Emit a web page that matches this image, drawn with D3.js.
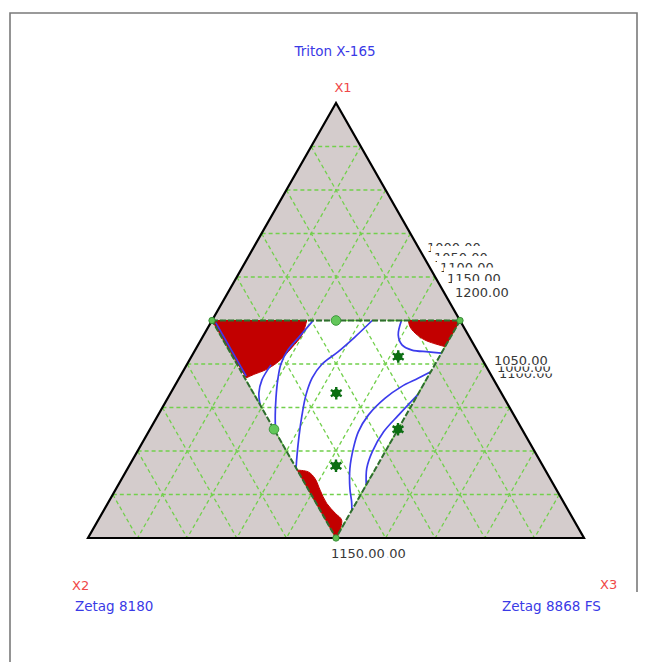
<!DOCTYPE html>
<html>
<head>
<meta charset="utf-8">
<script src="https://cdn.jsdelivr.net/npm/d3@7"></script>
<style>
  html, body { margin: 0; padding: 0; background: #ffffff; }
  svg { display: block; }
</style>
</head>
<body>
<svg id="chart" width="651" height="662"></svg>
<script>
// Mixture components (vertex order: X1 top, X2 bottom-left, X3 bottom-right)
const componentNames = ["Triton X-165", "Zetag 8180", "Zetag 8868 FS"];
const componentCodes = ["X1", "X2", "X3"];

// Grid levels for every component
const gridLevels = [0.1, 0.2, 0.3, 0.4, 0.5, 0.6, 0.7, 0.8, 0.9];

// Constrained design region (each component at most 0.5), compositions [X1, X2, X3]
const regionVertices = [[0.5, 0.5, 0], [0.5, 0, 0.5], [0, 0.5, 0.5]];

// Design runs and their marker kinds
const designPoints = [
  [0.5, 0.5, 0], [0.5, 0, 0.5], [0, 0.5, 0.5],
  [0.5, 0.25, 0.25], [0.25, 0.5, 0.25], [0.25, 0.25, 0.5],
  [0.333, 0.333, 0.334], [0.417, 0.166, 0.417], [0.166, 0.417, 0.417]
];
const designKinds = ["vertex", "vertex", "vertex", "edge", "edge", "star", "star", "star", "star"];

// Zones above the highest contour level: curved boundary, then the corner it encloses
const zoneTopLeftCurve = [
  [0.500, 0.309, 0.191], [0.467, 0.335, 0.198], [0.437, 0.371, 0.192],
  [0.405, 0.414, 0.181], [0.386, 0.450, 0.164], [0.377, 0.475, 0.148],
  [0.368, 0.497, 0.135]
];
const zoneTopLeftCorner = [[0.5, 0.5, 0]];

const zoneBottomCurve = [
  [0.156, 0.500, 0.344], [0.152, 0.480, 0.368], [0.137, 0.474, 0.389],
  [0.110, 0.477, 0.413], [0.080, 0.479, 0.441], [0.057, 0.473, 0.470],
  [0.041, 0.468, 0.491], [0.012, 0.488, 0.500]
];
const zoneBottomCorner = [[0, 0.5, 0.5]];

const zoneTopRightCurve = [
  [0.440, 0.060, 0.500], [0.442, 0.066, 0.492], [0.455, 0.093, 0.452],
  [0.471, 0.105, 0.424], [0.486, 0.108, 0.406], [0.500, 0.104, 0.396]
];
const zoneTopRightCorner = [[0.5, 0, 0.5]];

// Contour lines of the fitted response
const contourEdge = [[0.495, 0.495, 0.010], [0.372, 0.495, 0.133]];
const contourA = [[0.398, 0.432, 0.170], [0.363, 0.468, 0.169], [0.333, 0.489, 0.178], [0.306, 0.500, 0.194]];
const contourB = [
  [0.500, 0.296, 0.204], [0.464, 0.341, 0.195], [0.432, 0.381, 0.187], [0.400, 0.411, 0.189],
  [0.363, 0.436, 0.201], [0.322, 0.460, 0.218], [0.283, 0.481, 0.236], [0.244, 0.500, 0.256]
];
const contourC = [
  [0.500, 0.177, 0.323], [0.462, 0.231, 0.307], [0.428, 0.282, 0.290], [0.400, 0.328, 0.272],
  [0.368, 0.364, 0.268], [0.329, 0.396, 0.275], [0.283, 0.427, 0.290], [0.235, 0.457, 0.308],
  [0.191, 0.483, 0.326], [0.161, 0.500, 0.339]
];
const contourD = [
  [0.500, 0.118, 0.382], [0.467, 0.141, 0.392], [0.444, 0.145, 0.411],
  [0.432, 0.131, 0.437], [0.428, 0.100, 0.472], [0.425, 0.075, 0.500]
];
const contourE = [
  [0.382, 0.118, 0.500], [0.367, 0.151, 0.482], [0.348, 0.194, 0.458], [0.321, 0.241, 0.438],
  [0.283, 0.293, 0.424], [0.244, 0.333, 0.423], [0.206, 0.362, 0.432], [0.160, 0.392, 0.448],
  [0.114, 0.415, 0.471], [0.083, 0.427, 0.490], [0.064, 0.436, 0.500]
];
const contourF = [
  [0.329, 0.171, 0.500], [0.283, 0.232, 0.485], [0.244, 0.282, 0.474],
  [0.198, 0.328, 0.474], [0.160, 0.358, 0.482], [0.122, 0.378, 0.500]
];

// Contour level labels
const labelsUpper = ["1000.00", "1050.00", "1100.00", "1150.00", "1200.00"];
const labelsSide = ["1050.00", "1000.00", "1100.00"];
const labelsBase = ["1150.00", "1100.00"];

// ---------------------------------------------------------------------------
const svg = d3.select("#chart");

// Ternary projection: X1 sets the height, X3 - X2 sets the horizontal position
const yScale = d3.scaleLinear().domain([0, 1]).range([538, 103]);
const xScale = d3.scaleLinear().domain([-1, 1]).range([88, 584]);
const project = p => [xScale(p[2] - p[1]), yScale(p[0])];

const polyLine = d3.line().x(d => project(d)[0]).y(d => project(d)[1]);
const smoothLine = d3.line().x(d => project(d)[0]).y(d => project(d)[1]).curve(d3.curveCatmullRom.alpha(0.5));

const outerVertices = [[1, 0, 0], [0, 1, 0], [0, 0, 1]];

// Window frame
svg.append("path")
  .attr("d", "M10,662 V13 H637 V592")
  .attr("fill", "none")
  .attr("stroke", "#7a7a7a")
  .attr("stroke-width", 1.6);

// Simplex background and design region
svg.append("path")
  .attr("d", polyLine(outerVertices) + "Z")
  .attr("fill", "#d4cccc");
svg.append("path")
  .attr("d", polyLine(regionVertices) + "Z")
  .attr("fill", "#ffffff");

// Dashed grid for all three components
const gridSegments = [];
gridLevels.forEach(k => {
  gridSegments.push([[k, 1 - k, 0], [k, 0, 1 - k]]);
  gridSegments.push([[1 - k, k, 0], [0, k, 1 - k]]);
  gridSegments.push([[1 - k, 0, k], [0, 1 - k, k]]);
});
svg.append("g")
  .selectAll("path")
  .data(gridSegments)
  .join("path")
  .attr("d", d => polyLine(d))
  .attr("fill", "none")
  .attr("stroke", "#72d04c")
  .attr("stroke-width", 1.3)
  .attr("stroke-dasharray", "4,3");

// High-response zones
const zones = [
  [zoneTopLeftCurve, zoneTopLeftCorner],
  [zoneBottomCurve, zoneBottomCorner],
  [zoneTopRightCurve, zoneTopRightCorner]
];
svg.append("g")
  .selectAll("path")
  .data(zones)
  .join("path")
  .attr("d", d => smoothLine(d[0]) + d[1].map(p => "L" + project(p).join(",")).join("") + "Z")
  .attr("fill", "#c20000")
  .attr("stroke", "#c20000")
  .attr("stroke-width", 1);

// Contour lines
const contours = [contourEdge, contourA, contourB, contourC, contourD, contourE, contourF];
svg.append("g")
  .selectAll("path")
  .data(contours)
  .join("path")
  .attr("d", d => smoothLine(d))
  .attr("fill", "none")
  .attr("stroke", "#3c3cec")
  .attr("stroke-width", 1.7);

// Simplex outline
svg.append("path")
  .attr("d", polyLine(outerVertices) + "Z")
  .attr("fill", "none")
  .attr("stroke", "#000000")
  .attr("stroke-width", 2.2)
  .attr("stroke-linejoin", "miter");

// Design region outline
svg.append("path")
  .attr("d", polyLine(regionVertices) + "Z")
  .attr("fill", "none")
  .attr("stroke", "#2f6e2f")
  .attr("stroke-width", 2)
  .attr("stroke-dasharray", "6,2");

// Design points
const marks = svg.append("g");
designPoints.forEach((p, i) => {
  const [cx, cy] = project(p);
  const kind = designKinds[i];
  if (kind === "star") {
    marks.append("circle").attr("cx", cx).attr("cy", cy).attr("r", 4.2).attr("fill", "#0b6e12");
    marks.append("path")
      .attr("transform", `translate(${cx},${cy})`)
      .attr("d", d3.symbol(d3.symbolAsterisk, 110)())
      .attr("fill", "none")
      .attr("stroke", "#0b6e12")
      .attr("stroke-width", 2.4);
  } else if (kind === "edge") {
    marks.append("circle").attr("cx", cx).attr("cy", cy).attr("r", 4.8)
      .attr("fill", "#63c75a").attr("stroke", "#3d9a3d").attr("stroke-width", 1);
  } else {
    marks.append("circle").attr("cx", cx).attr("cy", cy).attr("r", 3.2)
      .attr("fill", "#5cbf52").attr("stroke", "#2f7f2f").attr("stroke-width", 0.8);
  }
});

// Contour labels sit on white boxes; later labels cover earlier ones
function contourLabel(text, lx, ly) {
  const g = svg.append("g");
  const t = g.append("text")
    .attr("x", lx).attr("y", ly)
    .attr("font-family", "DejaVu Sans, Verdana, sans-serif")
    .attr("font-size", 13)
    .attr("fill", "#383838")
    .text(text);
  const w = t.node().getComputedTextLength();
  g.insert("rect", "text")
    .attr("x", lx - 3).attr("y", ly - 15.5)
    .attr("width", w + 6).attr("height", 17)
    .attr("fill", "#ffffff");
}

const upperSpots = [[427, 251.5], [434, 261.5], [440, 271.5], [447, 283], [455, 296.5]];
labelsUpper.forEach((s, i) => contourLabel(s, upperSpots[i][0], upperSpots[i][1]));

const sideSpots = [[494, 365], [497, 372], [499, 378]];
[2, 1, 0].forEach(i => contourLabel(labelsSide[i], sideSpots[i][0], sideSpots[i][1]));

const baseSpots = [[331, 558], [352, 558]];
[1, 0].forEach(i => contourLabel(labelsBase[i], baseSpots[i][0], baseSpots[i][1]));

// Component names and codes
const textFont = "DejaVu Sans, Verdana, sans-serif";
const nameSpots = [[335, 56, "middle"], [75, 611, "start"], [502, 611, "start"]];
const codeSpots = [[343, 92, "middle"], [72, 590, "start"], [600, 589, "start"]];
componentNames.forEach((name, i) => {
  svg.append("text")
    .attr("x", nameSpots[i][0]).attr("y", nameSpots[i][1])
    .attr("text-anchor", nameSpots[i][2])
    .attr("font-family", textFont).attr("font-size", 13.5)
    .attr("fill", "#3a3ae6")
    .text(name);
});
componentCodes.forEach((code, i) => {
  svg.append("text")
    .attr("x", codeSpots[i][0]).attr("y", codeSpots[i][1])
    .attr("text-anchor", codeSpots[i][2])
    .attr("font-family", textFont).attr("font-size", 13)
    .attr("fill", "#f04848")
    .text(code);
});
</script>
</body>
</html>
